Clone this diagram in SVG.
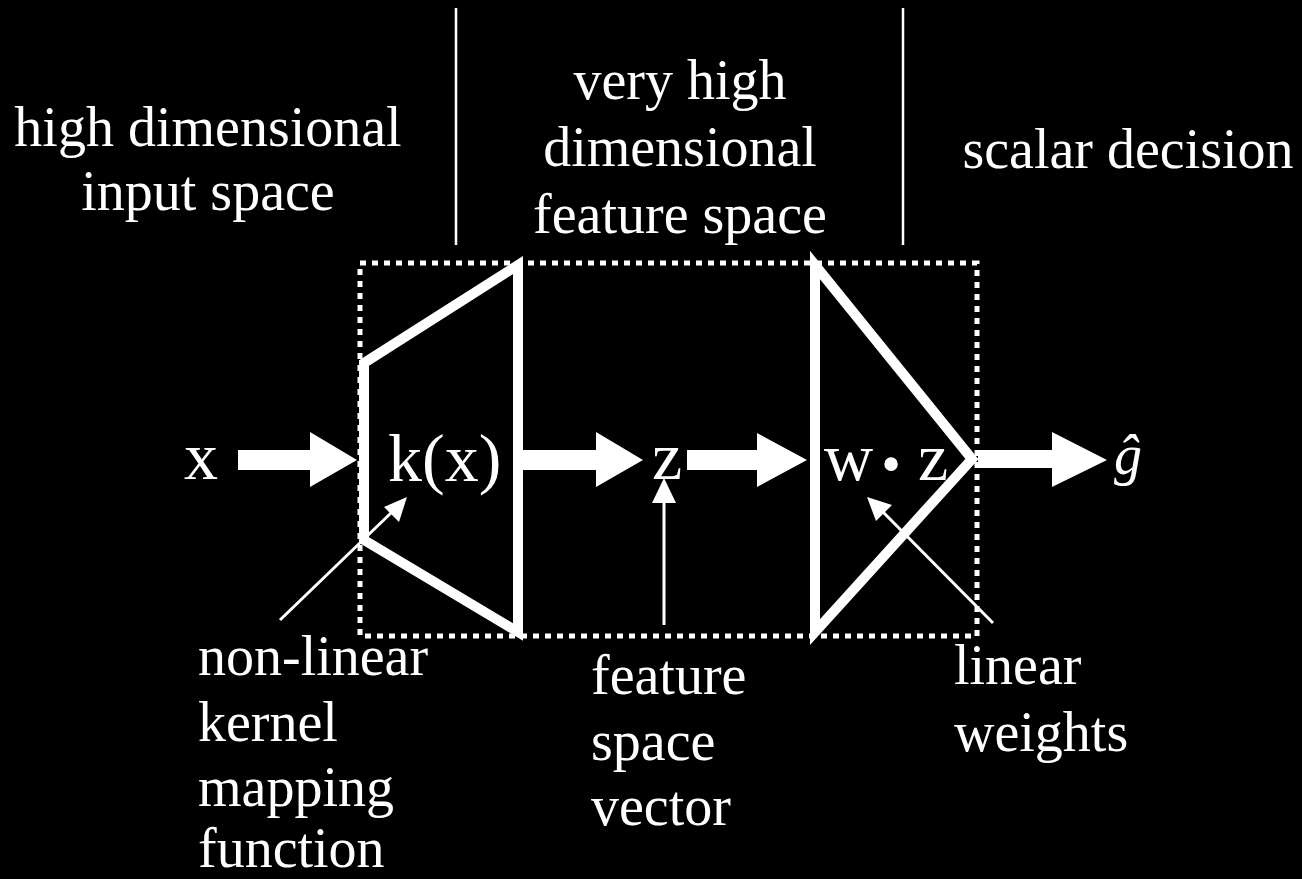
<svg xmlns="http://www.w3.org/2000/svg" width="1302" height="879" viewBox="0 0 1302 879">
<style>
text{font-family:"Liberation Serif","Times New Roman",serif;fill:#fff;font-size:56px}
.m{font-size:68px}
.c{text-anchor:middle}
.thick{fill:none;stroke:#fff;stroke-width:10;stroke-linejoin:miter}
.thin{stroke:#fff;stroke-width:3;fill:none}
.blk{fill:#fff}
</style>
<rect width="1302" height="879" fill="#000"/>
<g id="dividers">
<line x1="456" y1="8" x2="456" y2="245" stroke="#fff" stroke-width="2.5"/>
<line x1="903" y1="8" x2="903" y2="245" stroke="#fff" stroke-width="2.5"/>
</g>
<g id="labels-top">
<text class="c" x="208" y="146">high dimensional</text>
<text class="c" x="208" y="210">input space</text>
<text class="c" x="680" y="99">very high</text>
<text class="c" x="680" y="166">dimensional</text>
<text class="c" x="680" y="233">feature space</text>
<text class="c" x="1128" y="168">scalar decision</text>
</g>
<g id="box">
<rect x="360" y="263" width="617" height="373" fill="none" stroke="#fff" stroke-width="5" stroke-dasharray="6 6"/>
</g>
<g id="kernel">
<path class="thick" d="M364,540 L364,363 L518,265 L518,632 L364,540 Z"/>
<text class="m" x="388" y="481">k(x)</text>
</g>
<g id="weights">
<path class="thick" d="M815,265 L972,459 L815,632 Z"/>
<text class="m" x="824" y="480">w</text>
<text class="c" x="891" y="483" font-size="88">•</text>
<text class="m" x="918" y="480">z</text>
</g>
<g id="input">
<text class="m c" x="201" y="479">x</text>
</g>
<g id="feature">
<text class="m c" x="667" y="479">z</text>
</g>
<g id="output">
<text class="c" x="1128" y="474" font-size="64" font-style="italic">ĝ</text>
</g>
<g id="connectors">
<polygon class="blk" points="238,450 310,450 310,432 357,460 310,487 310,470 238,470"/>
<polygon class="blk" points="523,450 596,450 596,432 643,460 596,487 596,470 523,470"/>
<polygon class="blk" points="687,450 757,450 757,433 807,460 757,487 757,470 687,470"/>
<polygon class="blk" points="978,450 1052,450 1052,432 1107,460 1052,487 1052,468 978,468"/>
<line class="thin" x1="280" y1="620" x2="392" y2="512"/>
<polygon class="blk" points="407,497 399,522 384,507"/>
<line class="thin" x1="664" y1="625" x2="664" y2="500"/>
<polygon class="blk" points="664,478 676,503 652,503"/>
<line class="thin" x1="993" y1="623" x2="882" y2="511"/>
<polygon class="blk" points="867,497 892,505 876,521"/>
</g>
<g id="labels-bottom">
<text x="198" y="675">non-linear</text>
<text x="198" y="741">kernel</text>
<text x="198" y="806">mapping</text>
<text x="198" y="867">function</text>
<text x="591" y="694">feature</text>
<text x="591" y="760">space</text>
<text x="591" y="825">vector</text>
<text x="954" y="684">linear</text>
<text x="954" y="751">weights</text>
</g>
</svg>
